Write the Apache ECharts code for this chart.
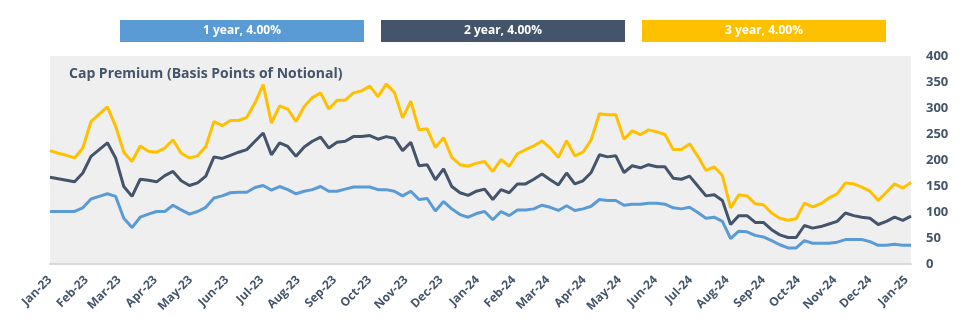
<!DOCTYPE html>
<html>
<head>
<meta charset="utf-8">
<script src="https://cdn.jsdelivr.net/npm/echarts@6/dist/echarts.min.js"></script>
<style>
html,body{margin:0;padding:0;background:#fff;}
#chart{width:975px;height:335px;}
</style>
</head>
<body>
<div id="chart"></div>
<script>
// Weekly observations starting 2023-01-06 (Friday)
const firstWeek = '2023-01-06';
const lastDay = '2025-01-10';
const seriesNames = ['1 year, 4.00%', '2 year, 4.00%', '3 year, 4.00%'];
const colors = ['#5B9BD5', '#44546A', '#FFC000'];
const monthNames = ['Jan','Feb','Mar','Apr','May','Jun','Jul','Aug','Sep','Oct','Nov','Dec'];
const yTicks = [0, 50, 100, 150, 200, 250, 300, 350, 400];

const oneYear = [101,101,101,101,108,125,130,135,130,88,
  70,90,96,101,101,113,104,96,101,109,
  127,131,137,138,138,147,151,142,149,143,
  135,140,143,149,140,140,144,148,148,148,
  143,143,140,131,140,124,126,102,120,106,
  95,90,97,101,85,101,93,104,104,106,
  113,109,103,112,103,106,111,124,122,122,
  113,115,115,117,117,115,108,106,109,99,
  88,90,82,49,63,62,55,52,45,37,
  31,31,45,40,40,40,42,47,47,47,
  43,36,36,38,36,36];
const twoYear = [167,164,161,158,175,207,220,233,204,149,
  130,163,161,158,170,178,160,151,156,169,
  206,203,209,215,220,236,252,210,233,226,
  207,225,236,244,223,234,236,245,245,247,
  240,245,242,218,234,189,191,162,183,149,
  137,132,140,144,124,143,137,154,154,163,
  173,162,152,175,154,160,176,210,206,208,
  176,189,185,191,187,187,165,163,169,150,
  131,133,122,76,93,93,80,80,66,56,
  51,51,74,69,72,77,82,98,93,90,
  88,76,82,90,84,92];
const threeYear = [218,213,209,204,223,274,288,302,265,215,
  197,227,217,215,223,239,213,204,208,226,
  274,266,276,276,282,310,345,271,304,298,
  274,303,320,329,298,315,315,329,333,342,
  322,346,330,281,313,258,260,224,243,205,
  191,188,194,197,178,201,188,212,220,227,
  237,223,205,237,208,215,239,289,287,287,
  240,256,249,258,254,249,220,220,231,207,
  180,187,170,108,133,131,116,114,98,88,
  84,87,117,110,116,127,135,156,154,148,
  140,122,138,154,146,157];

// Build a daily category axis so months are spaced by real days
function iso(t){ return new Date(t).toISOString().slice(0,10); }
const DAY = 86400000;
const t0 = Date.parse(firstWeek + 'T00:00:00Z');
const t1 = Date.parse(lastDay + 'T00:00:00Z');
const days = [];
for (let t = t0; t <= t1; t += DAY) days.push(iso(t));
const tickDay = new Date(t0).getUTCDate();
function isTick(idx, val){ return parseInt(val.slice(8,10),10) === tickDay; }
function monthLabel(val){
  const m = parseInt(val.slice(5,7),10) - 1;
  return monthNames[m] + '-' + val.slice(2,4);
}
function weekly(values){
  return values.map((v,i) => [iso(t0 + i*7*DAY), v]);
}
const allValues = [oneYear, twoYear, threeYear];

const chart = echarts.init(document.getElementById('chart'), null, {renderer:'canvas'});
const font = '"Open Sans", "Noto Sans", sans-serif';
const textColor = '#44546A';

const legendLefts = [120, 381, 642];
const option = {
  animation: false,
  backgroundColor: '#ffffff',
  title: {
    text: 'Cap Premium (Basis Points of Notional)',
    left: 64, top: 62,
    textStyle: {fontFamily: font, fontWeight: 'bold', fontSize: 14, color: textColor}
  },
  legend: seriesNames.map((n, i) => ({
    data: [{name: n, icon: 'none'}],
    left: legendLefts[i] - 10, top: 15,
    itemWidth: 0, itemHeight: 0,
    selectedMode: false,
    formatter: '{box|{name}}',
    textStyle: {
      rich: {
        box: {
          fontFamily: font, fontWeight: 'bold', fontSize: 12, color: '#ffffff',
          backgroundColor: colors[i], width: 244, height: 22, lineHeight: 22, align: 'center'
        }
      }
    }
  })),
  grid: {
    left: 50, right: 64, top: 56, bottom: 71,
    show: true, backgroundColor: '#EFEFEF', borderWidth: 0
  },
  xAxis: {
    type: 'category',
    data: days,
    boundaryGap: false,
    axisLine: {show: true, lineStyle: {color: '#D9D9D9', width: 2}},
    axisTick: {show: false},
    splitLine: {show: false},
    axisLabel: {
      interval: isTick,
      formatter: monthLabel,
      rotate: 45,
      margin: 14,
      fontFamily: font, fontWeight: 'bold', fontSize: 12, color: textColor
    }
  },
  yAxis: {
    type: 'value',
    position: 'right',
    min: yTicks[0], max: yTicks[yTicks.length-1], interval: 50,
    axisLine: {show: false}, axisTick: {show: false},
    splitLine: {show: false},
    axisLabel: {
      margin: 15,
      fontFamily: font, fontWeight: 'bold', fontSize: 13, color: textColor
    }
  },
  series: seriesNames.map((n, i) => ({
    name: n,
    type: 'line',
    data: weekly(allValues[i]),
    showSymbol: false,
    symbol: 'none',
    lineStyle: {width: 3, color: colors[i]},
    itemStyle: {color: colors[i]},
    z: 3 + i
  }))
};
chart.setOption(option);
</script>
</body>
</html>
